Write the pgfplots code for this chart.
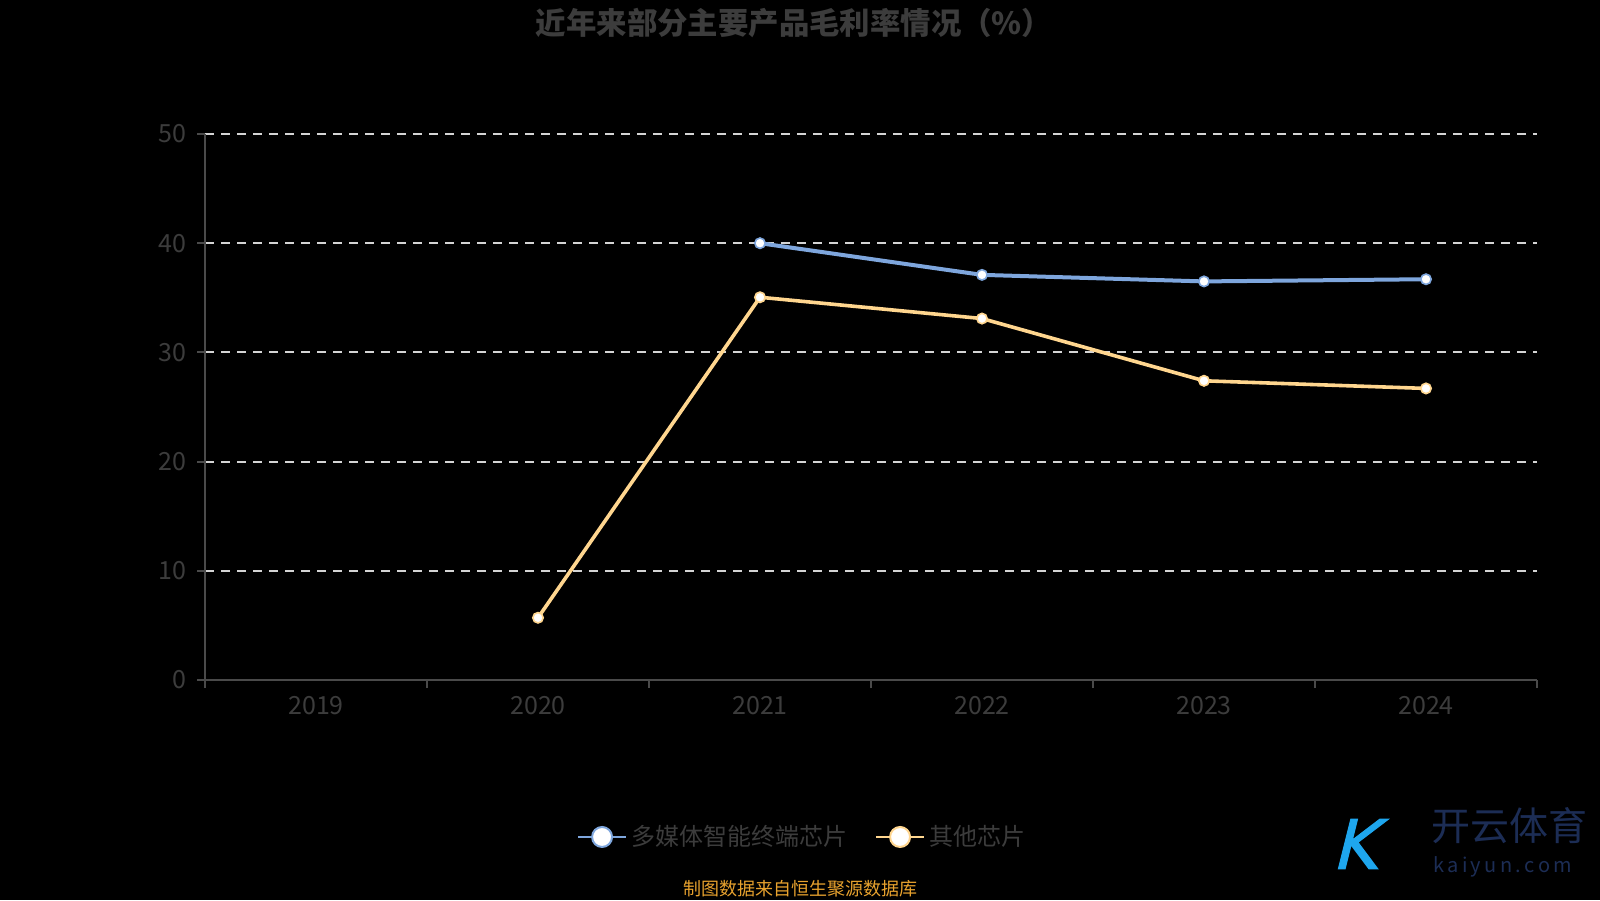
\documentclass[border=0pt]{standalone}
\usepackage{pgfplots}
\pgfplotsset{compat=1.18}
\usepackage{fontspec}
\setmainfont{Noto Sans CJK SC}
\newfontfamily\slantfont[FakeSlant=0.25, FakeBold=1.5]{DejaVu Sans}
\definecolor{bluel}{HTML}{7EA6DD}
\definecolor{orangel}{HTML}{FFD68F}
\definecolor{txtgray}{HTML}{3C3C3C}
\definecolor{axgray}{HTML}{4A4A4A}
\definecolor{gridc}{HTML}{D4D4D4}
\definecolor{footc}{HTML}{E8A22E}
\definecolor{logoc}{HTML}{1C2D55}
\definecolor{logok}{HTML}{1EA6EE}
\begin{document}
\begin{tikzpicture}[x=1pt,y=1pt]
\fill[black] (0,0) rectangle (800,450);
\useasboundingbox (0,0) rectangle (800,450);
\node[font=\fontsize{15.2}{17}\selectfont\bfseries, text=txtgray] at (397,438.5) {近年来部分主要产品毛利率情况（\%）};
\begin{axis}[
  at={(102.5pt,110pt)}, anchor=south west,
  scale only axis, width=666pt, height=273pt,
  xmin=-0.5, xmax=5.5, ymin=0, ymax=50,
  axis x line=bottom, axis y line=left,
  axis line style={-, draw=axgray, line width=1pt},
  xtick={-0.5,0.5,1.5,2.5,3.5,4.5,5.5},
  x tick label as interval,
  xticklabels={2019,2020,2021,2022,2023,2024},
  ytick={0,10,20,30,40,50},
  tick align=outside,
  major tick length=4pt,
  tick style={draw=axgray, line width=1pt},
  ymajorgrids,
  major grid style={draw=gridc, line width=1pt, dash pattern=on 4.5pt off 3.5pt},
  ticklabel style={font=\fontsize{12.5}{14}\selectfont, text=txtgray},
  /pgf/number format/assume math mode=true,
  xticklabel style={yshift=-0.5pt},
  yticklabel style={xshift=-2pt},
  clip=false,
  legend columns=2,
  legend style={draw=none, fill=none, at={(0.449,-0.2875)}, anchor=center,
    font=\fontsize{12}{14}\selectfont, text=txtgray,
    /tikz/every even column/.append style={column sep=12pt}},
  legend image code/.code={
    \draw[#1, mark=none, line width=1pt] (0pt,0pt) -- (24pt,0pt);
    \draw[#1, mark=none, fill=white, line width=1pt] (12pt,0pt) circle (5pt);
  },
]
\addplot[color=bluel, line width=2pt, mark=*, mark size=2.6pt,
  mark options={fill=white, draw=bluel, line width=0.8pt}]
  coordinates {(2,40.0) (3,37.1) (4,36.5) (5,36.7)};
\addlegendentry{多媒体智能终端芯片}
\addplot[color=orangel, line width=1.8pt, mark=*, mark size=2.6pt,
  mark options={fill=white, draw=orangel, line width=0.8pt}]
  coordinates {(1,5.7) (2,35.05) (3,33.1) (4,27.4) (5,26.7)};
\addlegendentry{其他芯片}
\end{axis}
\node[font=\fontsize{9}{10}\selectfont, text=footc] at (400,5.5) {制图数据来自恒生聚源数据库};
\node[font=\fontsize{34}{36}\selectfont\slantfont, text=logok] at (677,28) {K};
\node[font=\fontsize{19.5}{21}\selectfont, text=logoc, anchor=west] at (712,37) {开云体育};
\node[font=\fontsize{10}{11}\selectfont, text=logoc, anchor=west] at (713,16.5) {k\,a\,i\,y\,u\,n\,.\,c\,o\,m};
\end{tikzpicture}
\end{document}
